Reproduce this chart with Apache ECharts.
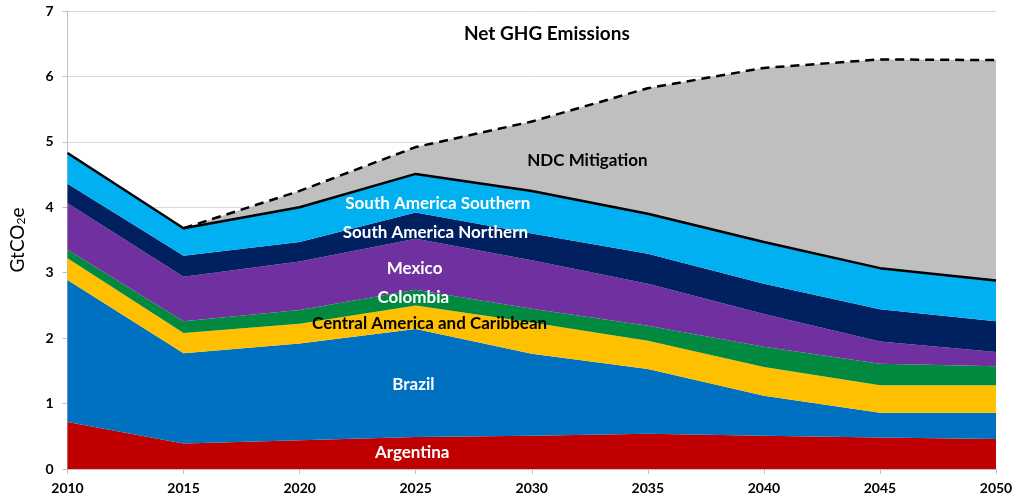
<!DOCTYPE html>
<html>
<head>
<meta charset="utf-8">
<script src="https://cdn.jsdelivr.net/npm/echarts@6/dist/echarts.min.js"></script>
<style>html,body{margin:0;padding:0;background:#fff}#c{width:1018px;height:503px}</style>
</head>
<body>
<div id="c"></div>
<script>
const years = ['2010','2015','2020','2025','2030','2035','2040','2045','2050'];
const argentina = [0.72, 0.39, 0.44, 0.49, 0.51, 0.54, 0.51, 0.48, 0.46];
const brazil    = [2.17, 1.38, 1.48, 1.65, 1.25, 0.99, 0.61, 0.38, 0.40];
const centralAmerica = [0.33, 0.31, 0.30, 0.36, 0.48, 0.43, 0.44, 0.42, 0.42];
const colombia  = [0.13, 0.18, 0.21, 0.24, 0.21, 0.23, 0.31, 0.33, 0.29];
const mexico    = [0.71, 0.68, 0.74, 0.78, 0.74, 0.64, 0.50, 0.34, 0.22];
const saNorthern = [0.30, 0.32, 0.30, 0.40, 0.41, 0.46, 0.46, 0.49, 0.47];
const saSouthern = [0.47, 0.42, 0.53, 0.59, 0.65, 0.61, 0.64, 0.63, 0.62];
const baseline  = [null, 3.68, 4.25, 4.92, 5.31, 5.82, 6.13, 6.26, 6.25];
const yTicks = [0, 1, 2, 3, 4, 5, 6, 7];

const regions = [
  {name:'Argentina', data:argentina, color:'#C00000'},
  {name:'Brazil', data:brazil, color:'#0070C0'},
  {name:'Central America and Caribbean', data:centralAmerica, color:'#FFC000'},
  {name:'Colombia', data:colombia, color:'#00893F'},
  {name:'Mexico', data:mexico, color:'#7030A0'},
  {name:'South America Northern', data:saNorthern, color:'#002060'},
  {name:'South America Southern', data:saSouthern, color:'#00B0F0'}
];
const total = years.map((_, i) => +regions.reduce((s, r) => s + r.data[i], 0).toFixed(3));
const mitigation = years.map((_, i) => baseline[i] == null ? 0 : +(baseline[i] - total[i]).toFixed(3));

const FONT = 'Lato, "Open Sans", sans-serif';
const chart = echarts.init(document.getElementById('c'));
const series = regions.map(r => ({
  name: r.name, type: 'line', stack: 'all', data: r.data, symbol: 'none',
  lineStyle: {width: 0}, areaStyle: {color: r.color, opacity: 1}, itemStyle: {color: r.color},
  z: 2
}));
series.push({name:'NDC Mitigation', type:'line', stack:'all', data: mitigation, symbol:'none',
  lineStyle:{width:0}, areaStyle:{color:'#BFBFBF', opacity:1}, z:1});
series.push({name:'Total', type:'line', data: total, symbol:'none',
  lineStyle:{color:'#000', width:2.5}, z:5});
series.push({name:'Baseline', type:'line', data: baseline, symbol:'none',
  lineStyle:{color:'#000', width:2.5, type:[9,6]}, z:5});

chart.setOption({
  animation: false,
  grid: {left: 64, right: 22, top: 11, bottom: 34},
  xAxis: {
    type: 'category', data: years, boundaryGap: false,
    axisLine: {lineStyle: {color: '#BFBFBF'}},
    axisTick: {show: true, length: 5, lineStyle: {color: '#BFBFBF'}},
    axisLabel: {color: '#000', fontWeight: 'bold', fontSize: 14, fontFamily: FONT, margin: 12}
  },
  yAxis: {
    type: 'value', min: 0, max: 7, interval: 1,
    name: '{a|GtCO}{b|2}{a|e}', nameLocation: 'middle', nameGap: 40, nameRotate: 90,
    nameTextStyle: {rich: {a: {fontSize: 19, color: '#000', fontFamily: FONT}, b: {fontSize: 12, color:'#000', fontFamily: FONT, verticalAlign: 'bottom', padding:[8,0,0,0]}}},
    axisLine: {show: true, lineStyle: {color: '#BFBFBF'}},
    axisTick: {show: true, length: 5, lineStyle: {color: '#BFBFBF'}},
    splitLine: {lineStyle: {color: '#D9D9D9', width: 1}},
    axisLabel: {color: '#000', fontWeight: 'bold', fontSize: 14, fontFamily: FONT, margin: 14,
      formatter: v => yTicks.includes(v) ? String(v) : ''}
  },
  series: series
});

function px(idx, val) {
  const a = chart.convertToPixel({gridIndex: 0}, [0, val]);
  const b = chart.convertToPixel({gridIndex: 0}, [years.length - 1, val]);
  return [a[0] + (b[0] - a[0]) * idx / (years.length - 1), a[1]];
}
const labels = [
  {t:'Net GHG Emissions', i:4.13, v:6.65, c:'#000', s:19},
  {t:'NDC Mitigation', i:4.48, v:4.71, c:'#000', s:17},
  {t:'South America Southern', i:3.19, v:4.05, c:'#fff', s:17},
  {t:'South America Northern', i:3.17, v:3.62, c:'#fff', s:17},
  {t:'Mexico', i:2.99, v:3.07, c:'#fff', s:17},
  {t:'Colombia', i:2.98, v:2.62, c:'#fff', s:17},
  {t:'Central America and Caribbean', i:3.12, v:2.22, c:'#000', s:17},
  {t:'Brazil', i:2.98, v:1.29, c:'#fff', s:17},
  {t:'Argentina', i:2.97, v:0.25, c:'#fff', s:17}
];
chart.setOption({graphic: labels.map(l => {
  const p = px(l.i, l.v);
  return {type:'text', x: p[0], y: p[1], z: 100,
    style: {text: l.t, fill: l.c, font: 'bold ' + l.s + 'px ' + FONT, align: 'center', verticalAlign: 'middle'}};
})});
</script>
</body>
</html>
